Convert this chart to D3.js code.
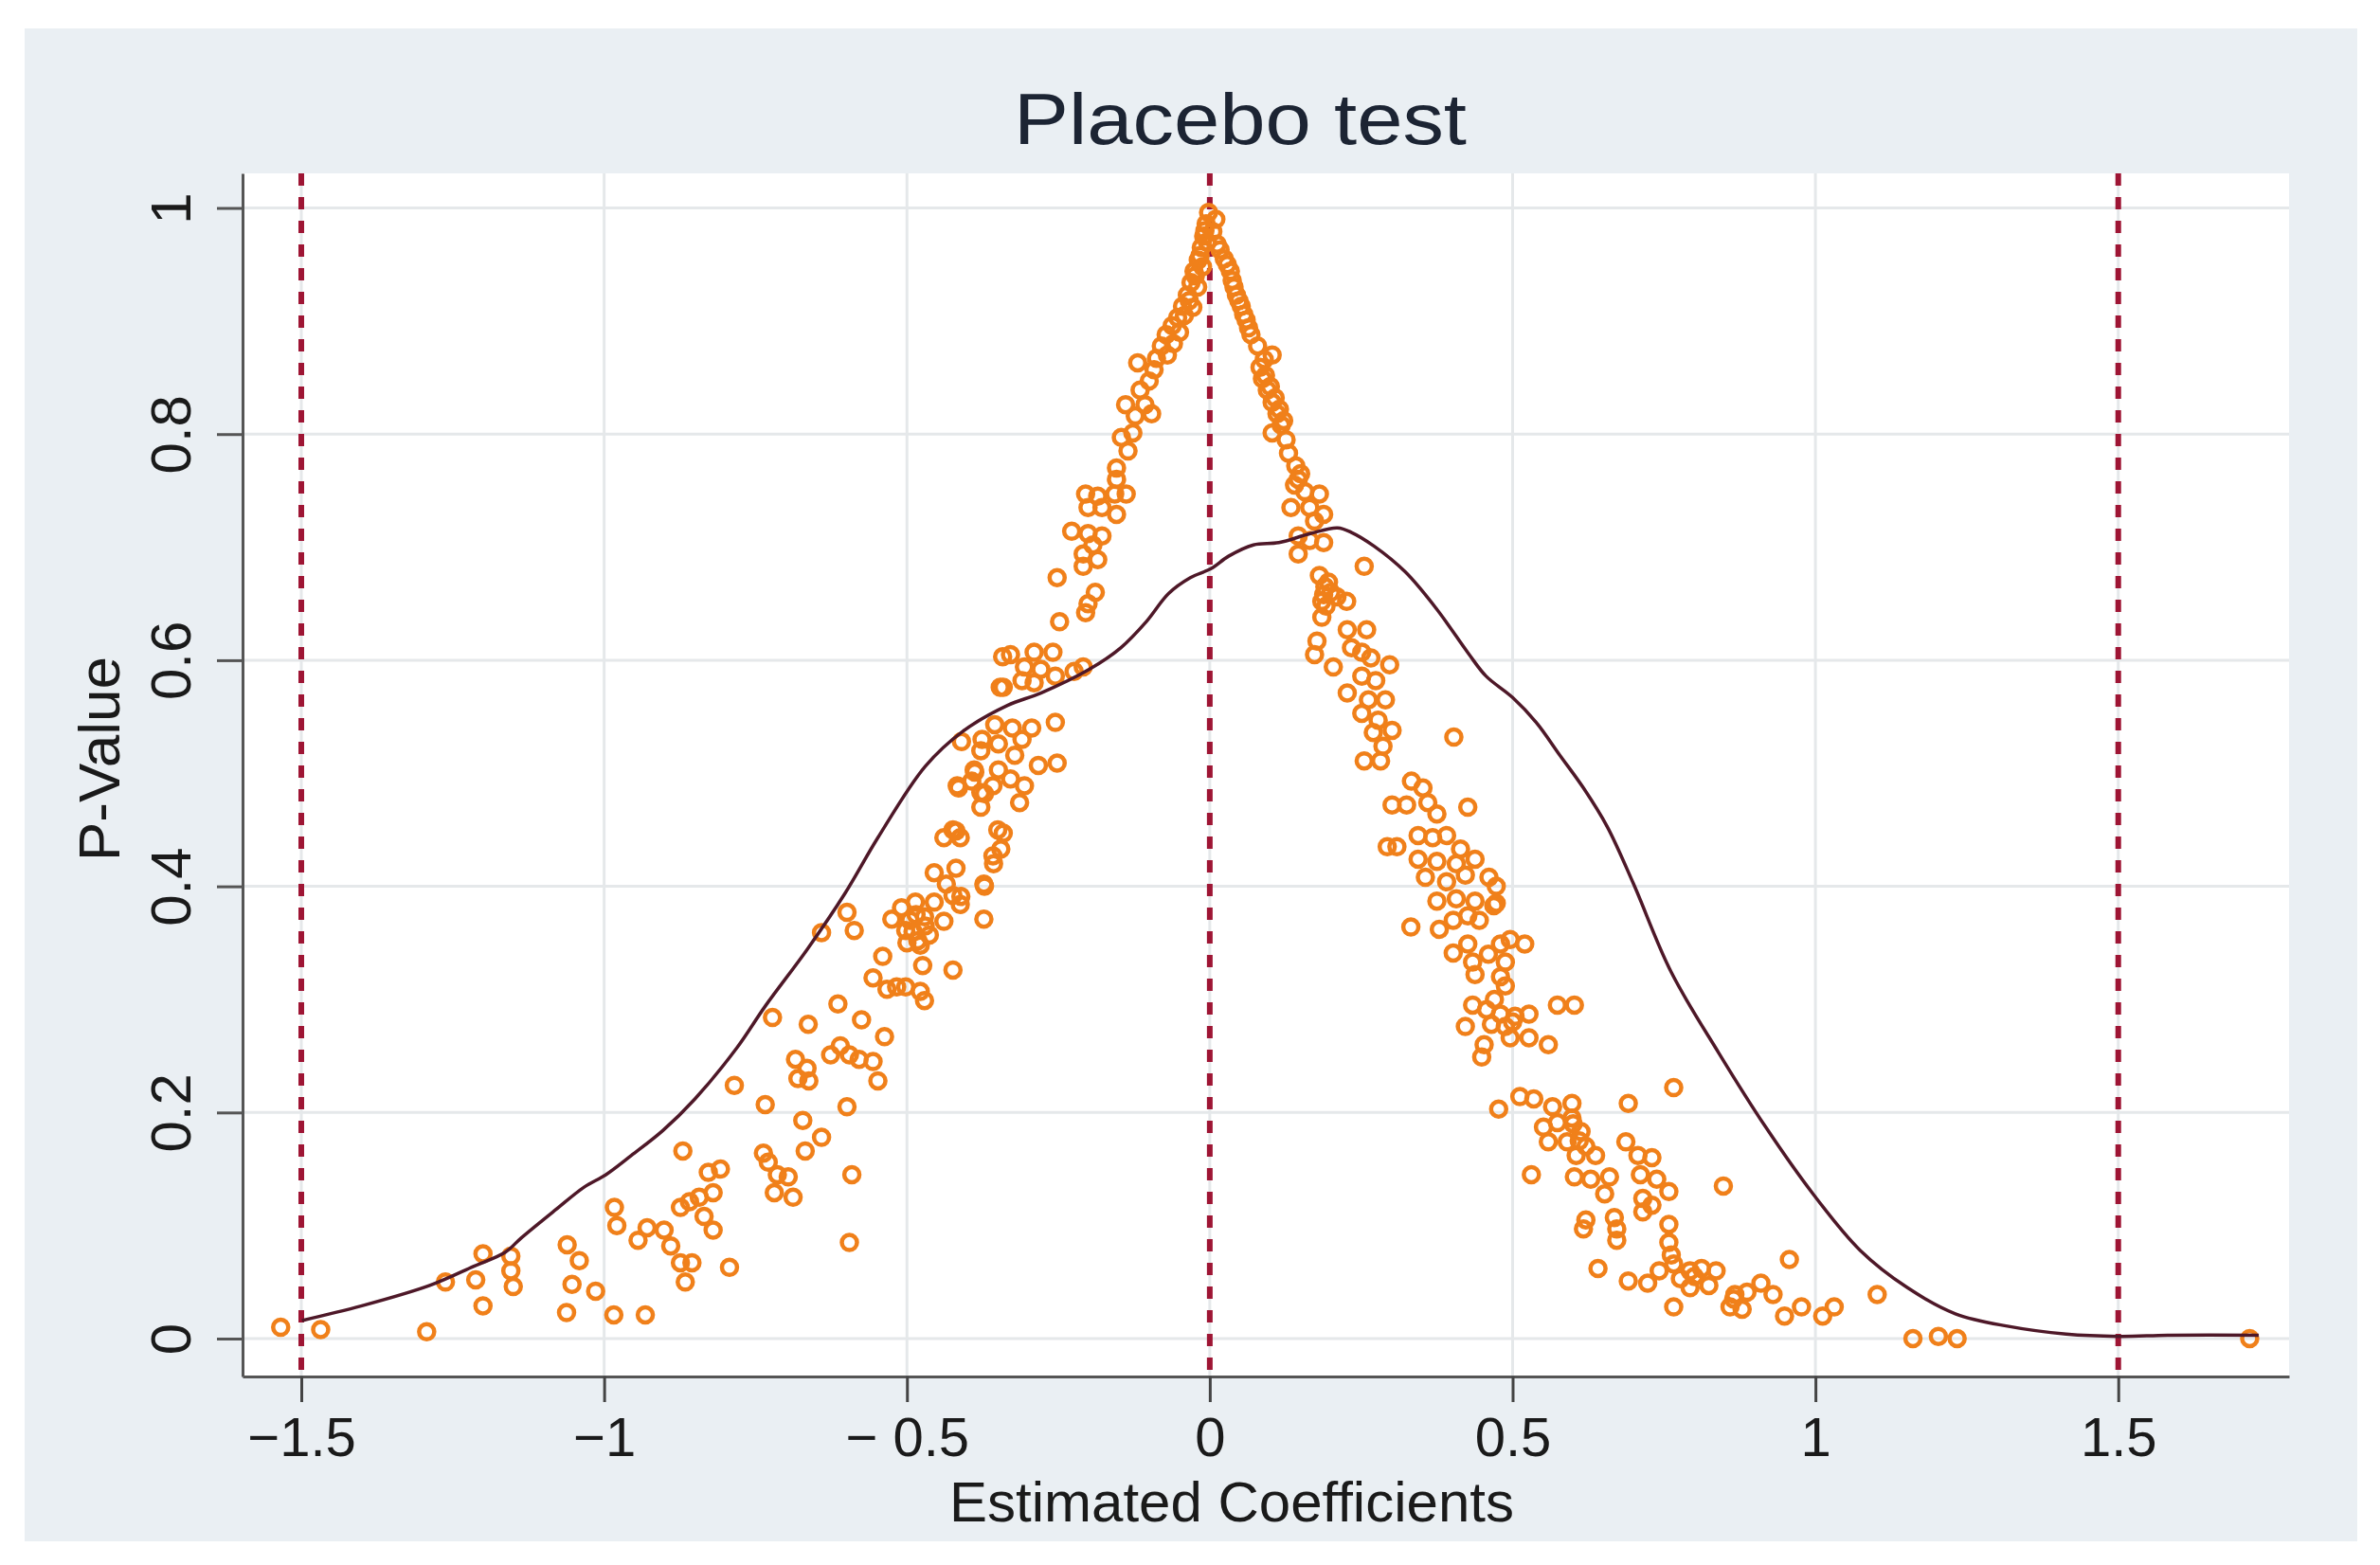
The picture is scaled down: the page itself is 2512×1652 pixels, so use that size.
<!DOCTYPE html>
<html>
<head>
<meta charset="utf-8">
<script src="https://cdn.jsdelivr.net/npm/d3@7"></script>
<style>
  body { margin: 0; background: #fff; }
  text { font-family: "Liberation Sans", Arial, sans-serif; }
</style>
</head>
<body>
<div class="chart"></div>
<script>

// placebo estimates (coefficient, p-value)
const coefX = [
  // left arm, lower part
  -1.534,-1.468,-1.293,-1.262,-1.212,-1.200,-1.200,-1.154,-1.154,-1.150,
  -1.061,-1.041,-1.053,-1.014,-1.062,-0.984,-0.932,-0.983,-0.979,-0.944,
  -0.929,-0.901,-0.890,-0.874,-0.855,-0.866,-0.870,-0.828,-0.808,-0.874,
  -0.859,-0.843,-0.820,-0.835,-0.820,-0.793,-0.785,-0.734,-0.722,-0.672,
  -0.641,-0.668,-0.737,-0.729,-0.714,-0.696,-0.719,-0.688,-0.599,-0.591,
  -0.595,-0.684,-0.665,-0.680,-0.662,-0.663,-0.614,-0.626,-0.610,-0.595,
  -0.575,-0.579,-0.556,-0.548,-0.537,-0.641,-0.599,-0.587,-0.556,-0.540,
  -0.533,-0.517,-0.502,-0.478,-0.471,-0.474,-0.424,-0.525,-0.509,-0.486,
  -0.471,-0.502,-0.482,-0.463,-0.478,-0.455,-0.439,-0.455,-0.435,-0.424,
  -0.412,-0.373,-0.373,-0.424,-0.439,-0.412,-0.350,-0.358,-0.417,-0.393,
  -0.378,-0.378,-0.358,-0.410,-0.378,-0.389,-0.355,-0.346,-0.342,
  -0.495,-0.490,-0.485,-0.500,-0.470,
  // left arm, upper part
  -0.002,-0.006,-0.010,-0.014,-0.019,-0.026,-0.031,-0.037,-0.045,-0.053,
  -0.062,-0.072,-0.080,-0.088,-0.119,-0.092,-0.100,-0.115,-0.139,-0.107,
  -0.123,-0.096,-0.146,-0.127,-0.135,-0.154,-0.154,-0.205,-0.185,-0.157,
  -0.138,-0.201,-0.178,-0.154,-0.228,-0.201,-0.178,-0.193,-0.209,-0.185,
  -0.209,-0.252,-0.189,-0.201,-0.205,-0.248,-0.329,-0.290,-0.259,-0.306,
  -0.279,-0.341,-0.310,-0.290,-0.255,-0.224,-0.209,-0.326,-0.294,-0.255,
  -0.376,-0.349,-0.310,-0.322,-0.283,-0.252,-0.388,-0.415,-0.349,-0.329,
  -0.306,-0.372,-0.314,-0.341,-0.419,-0.345,-0.357,-0.372,-0.419,-0.411,
  -0.008,-0.016,-0.024,-0.034,-0.042,-0.004,-0.012,-0.020,-0.028,-0.050,
  -0.060,-0.070,
  // right arm, upper part
  0.005,0.017,0.029,0.037,0.044,0.052,0.060,0.068,0.079,0.103,
  0.083,0.087,0.095,0.103,0.111,0.118,0.103,0.126,0.130,0.142,
  0.146,0.157,0.181,0.134,0.165,0.188,0.173,0.146,0.165,0.188,
  0.146,0.255,0.181,0.196,0.188,0.210,0.226,0.192,0.185,0.177,
  0.227,0.259,0.173,0.204,0.234,0.251,0.266,0.297,0.251,0.274,
  0.227,0.262,0.290,0.251,0.278,0.270,0.301,0.403,0.286,0.255,
  0.282,0.333,0.352,0.301,0.325,0.360,0.426,0.375,0.293,0.309,
  0.344,0.368,0.391,0.414,0.344,0.375,0.407,0.438,0.356,0.391,
  0.422,0.461,0.473,0.375,0.407,0.438,0.469,
  0.010,0.012,0.024,0.034,0.040,0.048,0.056,0.064,0.090,0.092,
  0.100,0.108,0.115,0.122,0.190,0.200,0.185,0.140,0.150,
  // right arm, lower part
  0.332,0.379,0.402,0.426,0.445,0.473,0.402,0.426,0.434,0.438,
  0.480,0.496,0.520,0.488,0.480,0.488,0.434,0.457,0.480,0.504,
  0.527,0.422,0.465,0.488,0.496,0.527,0.559,0.574,0.602,0.453,
  0.449,0.477,0.512,0.535,0.566,0.598,0.691,0.766,0.551,0.574,
  0.598,0.613,0.559,0.590,0.621,0.605,0.637,0.687,0.707,0.730,
  0.531,0.602,0.629,0.660,0.652,0.711,0.738,0.758,0.848,0.715,
  0.730,0.715,0.621,0.617,0.668,0.672,0.672,0.758,0.758,0.762,
  0.641,0.691,0.723,0.742,0.766,0.777,0.793,0.812,0.836,0.793,
  0.824,0.766,0.867,0.887,0.910,0.930,0.879,0.859,0.957,0.949,
  0.977,1.012,1.031,1.102,1.161,1.203,1.234,1.717,
  0.460,0.470,0.500,0.600,0.610,0.800,0.865
]

const pValue = [
  0.010,0.008,0.006,0.050,0.052,0.029,0.075,0.073,0.060,0.046,
  0.083,0.069,0.048,0.042,0.023,0.021,0.021,0.116,0.100,0.087,
  0.098,0.096,0.082,0.067,0.067,0.050,0.166,0.147,0.150,0.116,
  0.121,0.125,0.129,0.108,0.096,0.063,0.224,0.207,0.284,0.193,
  0.178,0.166,0.164,0.156,0.145,0.143,0.129,0.125,0.205,0.145,
  0.085,0.247,0.239,0.230,0.228,0.278,0.296,0.251,0.259,0.251,
  0.282,0.247,0.245,0.228,0.267,0.359,0.377,0.361,0.319,0.338,
  0.309,0.311,0.311,0.307,0.299,0.330,0.326,0.371,0.381,0.386,
  0.373,0.361,0.352,0.357,0.348,0.386,0.369,0.412,0.402,0.392,
  0.384,0.402,0.371,0.450,0.443,0.443,0.450,0.427,0.489,0.493,
  0.483,0.470,0.489,0.528,0.520,0.503,0.543,0.576,0.603,
  0.370,0.360,0.375,0.350,0.365,
  0.996,0.986,0.975,0.965,0.954,0.944,0.934,0.923,0.913,0.903,
  0.896,0.888,0.878,0.867,0.863,0.857,0.847,0.839,0.826,0.826,
  0.816,0.818,0.797,0.801,0.785,0.770,0.760,0.747,0.745,0.747,
  0.747,0.735,0.735,0.729,0.714,0.712,0.710,0.702,0.694,0.689,
  0.683,0.673,0.660,0.650,0.642,0.634,0.605,0.607,0.607,0.594,
  0.592,0.576,0.582,0.580,0.586,0.590,0.594,0.540,0.540,0.545,
  0.530,0.526,0.530,0.516,0.507,0.509,0.501,0.487,0.503,0.495,
  0.489,0.482,0.474,0.447,0.449,0.433,0.420,0.400,0.416,0.391,
  0.980,0.958,0.940,0.918,0.905,0.970,0.948,0.930,0.912,0.890,
  0.880,0.870,
  0.979,0.963,0.950,0.936,0.923,0.913,0.901,0.888,0.878,0.870,
  0.859,0.849,0.839,0.828,0.818,0.808,0.801,0.795,0.783,0.772,
  0.760,0.749,0.747,0.735,0.735,0.729,0.723,0.710,0.706,0.704,
  0.694,0.683,0.675,0.669,0.658,0.656,0.652,0.648,0.638,0.617,
  0.627,0.627,0.605,0.594,0.611,0.607,0.602,0.596,0.586,0.582,
  0.571,0.565,0.565,0.553,0.547,0.536,0.538,0.532,0.524,0.511,
  0.511,0.493,0.487,0.472,0.472,0.474,0.470,0.464,0.435,0.435,
  0.445,0.443,0.445,0.433,0.424,0.422,0.420,0.424,0.408,0.404,
  0.410,0.408,0.400,0.387,0.389,0.387,0.383,
  0.990,0.968,0.955,0.944,0.930,0.918,0.906,0.894,0.866,0.852,
  0.842,0.832,0.822,0.812,0.665,0.660,0.652,0.755,0.765,
  0.364,0.362,0.370,0.374,0.370,0.385,0.341,0.349,0.333,0.322,
  0.349,0.353,0.349,0.333,0.320,0.312,0.295,0.291,0.287,0.285,
  0.287,0.276,0.278,0.276,0.266,0.266,0.260,0.295,0.295,0.260,
  0.249,0.203,0.214,0.212,0.205,0.208,0.208,0.222,0.187,0.191,
  0.195,0.183,0.174,0.174,0.170,0.162,0.162,0.174,0.162,0.160,
  0.145,0.143,0.141,0.143,0.128,0.145,0.141,0.130,0.135,0.124,
  0.118,0.112,0.105,0.097,0.107,0.097,0.087,0.101,0.085,0.074,
  0.062,0.051,0.049,0.060,0.066,0.053,0.060,0.062,0.060,0.045,
  0.047,0.028,0.039,0.041,0.049,0.039,0.026,0.028,0.070,0.020,
  0.028,0.020,0.028,0.039,0.000,0.002,0.000,0.000,
  0.340,0.300,0.280,0.190,0.175,0.055,0.035
]

// kernel density of the estimates (dark line)
const densX = [-1.499,-1.400,-1.288,-1.215,-1.163,-1.137,-1.080,-1.033,-0.997,-0.955,
  -0.903,-0.850,-0.781,-0.734,-0.665,-0.602,-0.548,-0.470,-0.408,-0.334,
  -0.279,-0.199,-0.147,-0.105,-0.068,-0.032,0.002,0.031,0.072,0.114,
  0.166,0.211,0.234,0.271,0.323,0.375,0.427,0.456,0.500,0.539,
  0.578,0.617,0.656,0.699,0.762,0.840,0.918,0.996,1.074,1.152,
  1.231,1.317,1.414,1.500,1.586,1.732]
const densY = [0.016,0.029,0.047,0.064,0.0765,0.089,0.114,0.134,0.145,0.162,
  0.184,0.212,0.257,0.294,0.344,0.394,0.443,0.506,0.537,0.560,
  0.571,0.592,0.611,0.634,0.659,0.673,0.681,0.692,0.702,0.704,
  0.712,0.717,0.713,0.701,0.678,0.645,0.606,0.586,0.567,0.545,
  0.516,0.487,0.453,0.403,0.324,0.253,0.187,0.128,0.078,0.045,
  0.022,0.011,0.004,0.002,0.003,0.003]

const xTicks = [-1.5, -1, -0.5, 0, 0.5, 1, 1.5]
const xTickLabels = ["\u22121.5", "\u22121", "\u2212 0.5", "0", "0.5", "1", "1.5"]
const yTicks = [0, 0.2, 0.4, 0.6, 0.8, 1]
const yTickLabels = ["0", "0.2", "0.4", "0.6", "0.8", "1"]
const refLines = [-1.5, 0, 1.5]

const points = coefX.map((d, i) => ({ x: d, y: pValue[i] }))
const density = densX.map((d, i) => ({ x: d, y: densY[i] }))

const chart = PlaceboChart('.chart')
chart.update(points, density)

function PlaceboChart(container) {
  const W = 2512, H = 1652
  const margin = { top: 183, right: 96, bottom: 199, left: 256 }
  const width = W - margin.left - margin.right
  const height = H - margin.top - margin.bottom

  const svg = d3.select(container)
    .append("svg")
    .attr("width", W)
    .attr("height", H)

  // stata-ish outer panel
  svg.append("rect")
    .attr("x", 26).attr("y", 30)
    .attr("width", 2462).attr("height", 1597)
    .attr("fill", "#eaeff3")

  const g = svg.append("g")
    .attr("transform", `translate(${margin.left},${margin.top})`)

  g.append("rect")
    .attr("width", width).attr("height", height)
    .attr("fill", "#ffffff")

  const xScale = d3.scaleLinear()
    .domain([-1.597, 1.782])
    .range([0, width])

  const yScale = d3.scaleLinear()
    .domain([-0.0335, 1.0306])
    .range([height, 0])

  const xAxis = d3.axisBottom(xScale)
    .tickValues(xTicks)
    .tickFormat((d, i) => xTickLabels[i])
    .tickSize(27).tickSizeOuter(0).tickPadding(16)

  const yAxis = d3.axisLeft(yScale)
    .tickValues(yTicks)
    .tickFormat((d, i) => yTickLabels[i])
    .tickSize(27).tickSizeOuter(0)

  function update(points, density) {
    // grid
    g.append("g").selectAll("line")
      .data(yTicks).join("line")
      .attr("x1", 0).attr("x2", width)
      .attr("y1", d => yScale(d)).attr("y2", d => yScale(d))
      .attr("stroke", "#e5e8ea").attr("stroke-width", 3)

    g.append("g").selectAll("line")
      .data(xTicks).join("line")
      .attr("x1", d => xScale(d)).attr("x2", d => xScale(d))
      .attr("y1", 0).attr("y2", height)
      .attr("stroke", "#e5e8ea").attr("stroke-width", 3)

    // reference lines
    g.append("g").selectAll("line")
      .data(refLines).join("line")
      .attr("x1", d => xScale(d)).attr("x2", d => xScale(d))
      .attr("y1", 0).attr("y2", height)
      .attr("stroke", "#9e1534").attr("stroke-width", 6)
      .attr("stroke-dasharray", "13,12")

    // scatter
    g.append("g").selectAll("circle")
      .data(points).join("circle")
      .attr("cx", d => xScale(d.x))
      .attr("cy", d => yScale(d.y))
      .attr("r", 8)
      .attr("fill", "none")
      .attr("stroke", "#f0801a")
      .attr("stroke-width", 4.5)

    // density line
    const line = d3.line()
      .x(d => xScale(d.x))
      .y(d => yScale(d.y))
      .curve(d3.curveCatmullRom)

    g.append("path")
      .datum(density)
      .attr("d", line)
      .attr("fill", "none")
      .attr("stroke", "#4e1828")
      .attr("stroke-width", 3.5)

    // axes
    const gx = g.append("g")
      .attr("transform", `translate(0,${height})`)
      .call(xAxis)
    gx.select(".domain").attr("stroke", "#555").attr("stroke-width", 3)
    gx.selectAll(".tick line").attr("stroke", "#444").attr("stroke-width", 3)
    gx.selectAll(".tick text")
      .attr("font-size", 58).attr("fill", "#1a1a1a")
      .attr("font-family", "Liberation Sans, Arial, sans-serif")

    const gy = g.append("g").call(yAxis)
    gy.select(".domain").attr("stroke", "#555").attr("stroke-width", 3)
    gy.selectAll(".tick line").attr("stroke", "#555").attr("stroke-width", 3)
    gy.selectAll(".tick text")
      .attr("x", 0).attr("dy", 0)
      .attr("text-anchor", "middle")
      .attr("transform", "translate(-55,0) rotate(-90)")
      .attr("font-size", 60).attr("fill", "#1a1a1a")
      .attr("font-family", "Liberation Sans, Arial, sans-serif")
  }

  // titles
  svg.append("text")
    .attr("x", 1309).attr("y", 152)
    .attr("text-anchor", "middle")
    .attr("font-size", 76)
    .attr("textLength", 478).attr("lengthAdjust", "spacingAndGlyphs")
    .attr("fill", "#1c2433")
    .text("Placebo test")

  svg.append("text")
    .attr("x", 1300).attr("y", 1606)
    .attr("text-anchor", "middle")
    .attr("font-size", 60)
    .attr("fill", "#1a1a1a")
    .text("Estimated Coefficients")

  svg.append("text")
    .attr("transform", "translate(126,801) rotate(-90)")
    .attr("text-anchor", "middle")
    .attr("font-size", 62)
    .attr("fill", "#1a1a1a")
    .text("P-Value")

  return {
    update
  }
}
</script>
</body>
</html>
